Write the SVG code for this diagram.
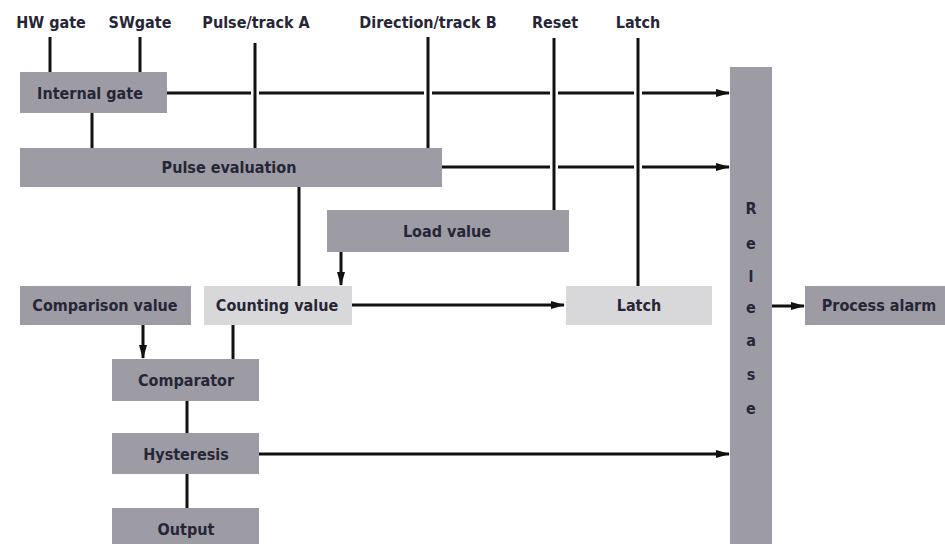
<svg xmlns="http://www.w3.org/2000/svg" width="945" height="544" viewBox="0 0 945 544">
<style>
.d{fill:#9d9ca4}
.l{fill:#d8d8da}
text{font-family:"DejaVu Sans Condensed","DejaVu Sans",sans-serif;font-weight:bold;font-size:16px;fill:#262636;text-anchor:middle;dominant-baseline:central}
.c line,.c path{stroke:#111;stroke-width:3;fill:none}
</style>
<defs>
<marker id="a" markerWidth="14" markerHeight="10" refX="13" refY="5" orient="auto" markerUnits="userSpaceOnUse"><path d="M0,1 L14,5 L0,9 Z" fill="#111"/></marker>
</defs>
<g id="labels">
<text x="51" y="22">HW gate</text>
<text x="140" y="22">SWgate</text>
<text x="256" y="22">Pulse/track A</text>
<text x="428" y="22">Direction/track B</text>
<text x="555" y="22">Reset</text>
<text x="638" y="22">Latch</text>
</g>
<g class="c" id="connectors">
<line x1="50" y1="37" x2="50" y2="72"/>
<line x1="140" y1="37" x2="140" y2="72"/>
<line x1="255" y1="43" x2="255" y2="148"/>
<line x1="428" y1="37" x2="428" y2="148"/>
<line x1="554" y1="38" x2="554" y2="210"/>
<line x1="638" y1="38" x2="638" y2="286"/>
<line x1="92" y1="113" x2="92" y2="148"/>
<path d="M167,93 H251 M259,93 H424 M432,93 H550 M558,93 H634"/>
<line x1="642" y1="93" x2="729" y2="93" marker-end="url(#a)"/>
<path d="M442,167 H550 M558,167 H634"/>
<line x1="642" y1="167" x2="729" y2="167" marker-end="url(#a)"/>
<line x1="299" y1="187" x2="299" y2="286"/>
<line x1="341" y1="252" x2="341" y2="285" marker-end="url(#a)"/>
<line x1="352" y1="305" x2="564" y2="305" marker-end="url(#a)"/>
<line x1="143" y1="325" x2="143" y2="358" marker-end="url(#a)"/>
<line x1="233" y1="325" x2="233" y2="359"/>
<line x1="187" y1="401" x2="187" y2="433"/>
<line x1="187" y1="474" x2="187" y2="508"/>
<line x1="259" y1="454" x2="729" y2="454" marker-end="url(#a)"/>
<line x1="772" y1="306" x2="804" y2="306" marker-end="url(#a)"/>
</g>
<g id="internal-gate"><rect class="d" x="20" y="72" width="147" height="41"/><text x="90" y="93">Internal gate</text></g>
<g id="pulse-evaluation"><rect class="d" x="20" y="148" width="422" height="39"/><text x="229" y="167">Pulse evaluation</text></g>
<g id="load-value"><rect class="d" x="327" y="210" width="242" height="42"/><text x="447" y="231">Load value</text></g>
<g id="comparison-value"><rect class="d" x="20" y="286" width="171" height="39"/><text x="105" y="305">Comparison value</text></g>
<g id="counting-value"><rect class="l" x="204" y="286" width="148" height="39"/><text x="277" y="305">Counting value</text></g>
<g id="latch"><rect class="l" x="566" y="286" width="146" height="39"/><text x="639" y="305">Latch</text></g>
<g id="comparator"><rect class="d" x="112" y="359" width="147" height="42"/><text x="186" y="380">Comparator</text></g>
<g id="hysteresis"><rect class="d" x="112" y="433" width="147" height="41"/><text x="186" y="454">Hysteresis</text></g>
<g id="output"><rect class="d" x="112" y="508" width="147" height="40"/><text x="186" y="529">Output</text></g>
<g id="release"><rect class="d" x="730" y="67" width="42" height="480"/>
<text x="751" y="208">R</text><text x="751" y="243">e</text><text x="751" y="276">l</text><text x="751" y="307">e</text><text x="751" y="340">a</text><text x="751" y="374">s</text><text x="751" y="408">e</text></g>
<g id="process-alarm"><rect class="d" x="805" y="286" width="145" height="39"/><text x="879" y="305">Process alarm</text></g>
</svg>
